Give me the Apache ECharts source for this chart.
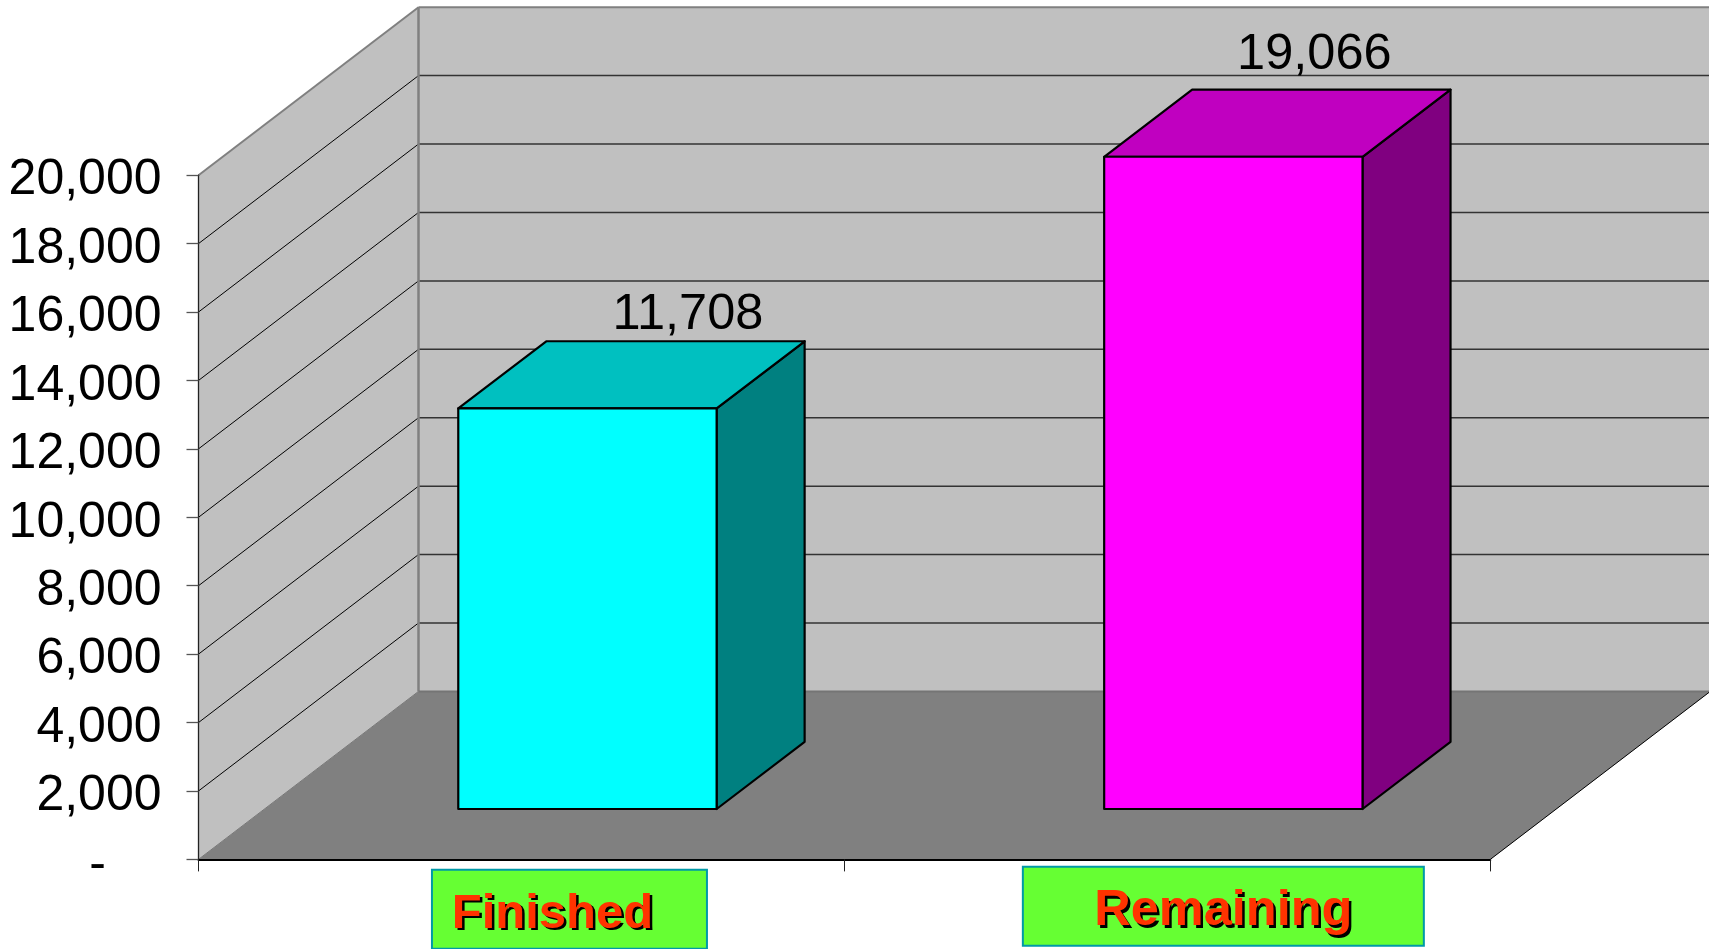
<!DOCTYPE html>
<html>
<head>
<meta charset="utf-8">
<style>html,body{margin:0;padding:0;background:#fff;overflow:hidden}#c{width:1709px;height:949px}</style>
<script src="https://cdn.jsdelivr.net/npm/echarts@6/dist/echarts.min.js"></script>
</head>
<body>
<div id="c"></div>
<script>
const categories = ['Finished', 'Remaining'];
const values = [11708, 19066];
const yTicks = [0, 2000, 4000, 6000, 8000, 10000, 12000, 14000, 16000, 18000, 20000];

// Oblique projection of the depth axis, in pixels
const DX = 220, DY = -168;
const FONT = '"Liberation Sans", Arial, sans-serif';
const faceColors = [
  {front: '#00ffff', top: '#00c0c0', side: '#008080'},
  {front: '#ff00ff', top: '#c000c0', side: '#800080'}
];
const valueLabelOffset = [[100.5, -93.6], [81, -102]];
const catBox = [
  {dx: 48, dy: 49.8, w: 275, h: 79, tx: 31, ty: 55, size: 49},
  {dx: 56, dy: 46.8, w: 401, h: 79, tx: 56, ty: 52, size: 50.5}
];

const chart = echarts.init(document.getElementById('c'), null, {renderer: 'canvas'});

function poly(points, fill, stroke, lw) {
  return {type: 'polygon', shape: {points}, style: {fill, stroke: stroke || null, lineWidth: lw || 0, lineJoin: 'round'}};
}
function seg(a, b, stroke, lw) {
  return {type: 'line', shape: {x1: a[0], y1: a[1], x2: b[0], y2: b[1]}, style: {stroke, lineWidth: lw, fill: null}};
}

function renderRoom(params, api) {
  const x0 = api.coord([0, 0])[0] - api.size([1, 0])[0] / 2;
  const x1 = x0 + api.size([1, 0])[0] * 2;
  const y0 = api.coord([0, 0])[1];
  const yT = api.coord([0, yTicks[yTicks.length - 1]])[1];
  const kids = [
    poly([[x0, y0], [x0, yT], [x0 + DX, yT + DY], [x0 + DX, y0 + DY]], '#c0c0c0'),
    poly([[x0 + DX, y0 + DY], [x0 + DX, yT + DY], [x1 + DX, yT + DY], [x1 + DX, y0 + DY]], '#c0c0c0'),
    poly([[x0, y0], [x1, y0], [x1 + DX, y0 + DY], [x0 + DX, y0 + DY]], '#808080')
  ];
  yTicks.forEach(function (t, i) {
    if (i === 0 || i === yTicks.length - 1) return;
    const y = api.coord([0, t])[1];
    kids.push(seg([x0, y], [x0 + DX, y + DY], '#000', 1));
    kids.push(seg([x0 + DX, y + DY], [x1 + DX, y + DY], '#333', 1.5));
  });
  kids.push(seg([x0, yT], [x0 + DX, yT + DY], '#808080', 2));
  kids.push(seg([x0 + DX, yT + DY], [x1 + DX, yT + DY], '#808080', 2));
  kids.push(seg([x0 + DX, yT + DY], [x0 + DX, y0 + DY], '#808080', 2.5));
  kids.push(seg([x0 + DX, y0 + DY], [x1 + DX, y0 + DY], '#757575', 2));
  kids.push(seg([x0, y0], [x0 + DX, y0 + DY], '#777', 1));
  kids.push(seg([x1, y0], [x1 + DX, y0 + DY], '#000', 1));
  return {type: 'group', children: kids};
}

function renderBar(params, api) {
  const i = api.value(0), v = api.value(1);
  const band = api.size([1, 0])[0];
  const base = api.coord([i, 0]);
  const top = api.coord([i, v]);
  const w = band * 0.4;
  const sx = DX * 0.3, sy = DY * 0.3, ex = DX * 0.4, ey = DY * 0.4;
  const l = base[0] + sx - w / 2, r = l + w;
  const b = base[1] + sy, t = top[1] + sy;
  const c = faceColors[i];
  const off = valueLabelOffset[i];
  return {type: 'group', children: [
    poly([[r, b], [r, t], [r + ex, t + ey], [r + ex, b + ey]], c.side, '#000', 2.2),
    poly([[l, t], [r, t], [r + ex, t + ey], [l + ex, t + ey]], c.top, '#000', 2.2),
    poly([[l, b], [l, t], [r, t], [r, b]], c.front, '#000', 2.2),
    {type: 'text', style: {
      text: echarts.format.addCommas(v),
      x: (l + r) / 2 + off[0], y: t + off[1],
      align: 'center', verticalAlign: 'middle',
      font: '50.5px ' + FONT, fill: '#000'
    }}
  ]};
}

function renderCat(params, api) {
  const i = api.value(0);
  const base = api.coord([i, 0]);
  const b = catBox[i];
  const cx = base[0] + b.dx, cy = base[1] + b.dy;
  return {type: 'group', children: [
    {type: 'rect', shape: {x: cx - b.w / 2, y: cy - b.h / 2, width: b.w, height: b.h},
      style: {fill: '#66ff33', stroke: '#0099a8', lineWidth: 2}},
    {type: 'text', style: {
      text: categories[i],
      x: base[0] + b.tx, y: base[1] + b.ty,
      align: 'center', verticalAlign: 'middle',
      font: 'bold ' + b.size + 'px ' + FONT, fill: '#ff3300',
      textShadowColor: '#000', textShadowOffsetX: 2.5, textShadowOffsetY: 2.5, textShadowBlur: 0.5,
      shadowColor: '#000', shadowOffsetX: 2.5, shadowOffsetY: 2.5, shadowBlur: 0.5
    }}
  ]};
}

chart.setOption({
  animation: false,
  backgroundColor: '#ffffff',
  grid: {left: 198.5, top: 175.2, width: 1291.8, height: 684.2, containLabel: false},
  xAxis: {
    type: 'category',
    data: categories,
    z: 4,
    axisLine: {show: true, lineStyle: {color: '#000', width: 2}},
    axisTick: {show: true, length: 12, alignWithLabel: false, lineStyle: {color: '#222', width: 1}},
    axisLabel: {show: false},
    splitLine: {show: false}
  },
  yAxis: {
    type: 'value',
    min: 0, max: 20000, interval: 2000,
    z: 4,
    axisLine: {show: true, lineStyle: {color: '#222', width: 1.3}},
    axisTick: {show: true, length: 12, lineStyle: {color: '#555', width: 1.3}},
    axisLabel: {
      margin: 37,
      verticalAlign: 'top',
      lineHeight: 11,
      fontFamily: FONT, fontSize: 50, color: '#000',
      formatter: function (v) { return v === 0 ? '-\u00a0\u00a0\u00a0\u00a0' : echarts.format.addCommas(v); }
    },
    splitLine: {show: false}
  },
  series: [
    {type: 'custom', name: 'room', z: 1, silent: true, renderItem: renderRoom, data: [[0]], encode: {x: 0}},
    {type: 'custom', name: 'Value', z: 2, silent: true, renderItem: renderBar,
      data: values.map(function (v, i) { return [i, v]; }), encode: {x: 0, y: 1}},
    {type: 'custom', name: 'Category', z: 3, silent: true, renderItem: renderCat,
      data: categories.map(function (c, i) { return [i]; }), encode: {x: 0}}
  ]
});
</script>
</body>
</html>
